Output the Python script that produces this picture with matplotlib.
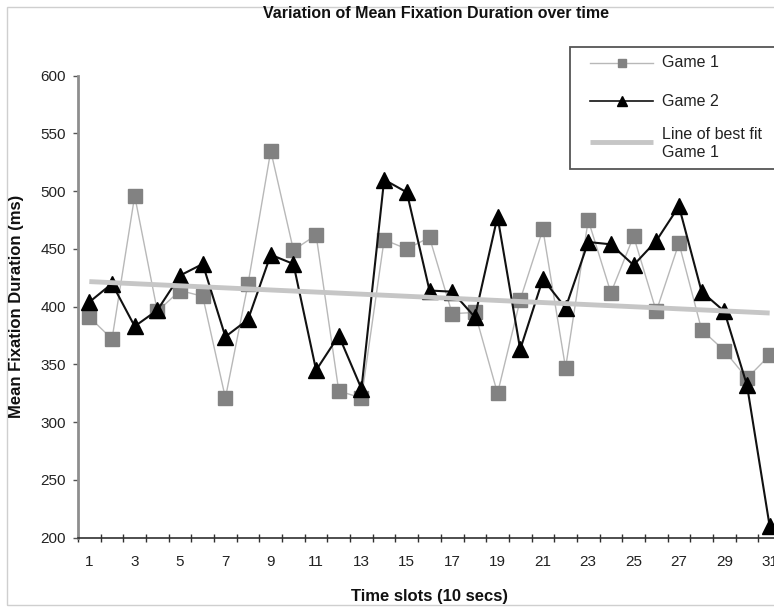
import matplotlib
matplotlib.use('Agg')
import matplotlib.pyplot as plt
import numpy as np
from matplotlib.lines import Line2D
from matplotlib.patches import Rectangle

plt.rcParams['font.family'] = ['Liberation Sans', 'DejaVu Sans']

# ---------------- data ----------------
slots = list(range(1, 32))
game1 = [391, 372, 496, 396, 414, 409, 321, 420, 535, 449,
         462, 327, 321, 458, 450, 460, 394, 395, 325, 406,
         467, 347, 475, 412, 461, 396, 455, 380, 362, 338, 358]
game2 = [404, 420, 383, 397, 427, 437, 374, 389, 445, 437,
         345, 375, 329, 510, 499, 414, 413, 391, 478, 363,
         424, 399, 456, 454, 436, 457, 487, 413, 396, 332, 210]
yticks = [200, 250, 300, 350, 400, 450, 500, 550, 600]
xtick_labels = [str(v) for v in range(1, 32, 2)]
title = "Variation of Mean Fixation Duration over time"
xlabel = "Time slots (10 secs)"
ylabel = "Mean Fixation Duration (ms)"
legend_labels = ["Game 1", "Game 2", "Line of best fit\nGame 1"]

# ---------------- figure ----------------
W, H = 774, 607
fig = plt.figure(figsize=(W / 100, H / 100), dpi=100)


def fx(px):
    return px / W


def fy(py):
    return 1 - py / H


ax_left, ax_right, ax_top, ax_bot = 78, 781, 75.7, 537.7
ax = fig.add_axes([fx(ax_left), fy(ax_bot), (ax_right - ax_left) / W, (ax_bot - ax_top) / H])

G1_LINE = '#b8b8b8'
G1_MARK = '#828282'
G2 = '#111111'
FIT = '#c6c6c6'

ax.plot(slots, game1, color=G1_LINE, lw=1.0, marker='s', ms=10, mfc=G1_MARK, mec=G1_MARK, zorder=3)
ax.plot(slots, game2, color=G2, lw=1.5, marker='^', ms=11.5, mfc='black', mec='black', zorder=4)

coef = np.polyfit(slots, game1, 1)
fit_x = np.array([slots[0], slots[-1]])
ax.plot(fit_x, np.polyval(coef, fit_x), color=FIT, lw=3.5, zorder=5, solid_capstyle='butt')

ax.set_xlim(0.5, 31.5)
ax.set_ylim(200, 600)
ax.set_yticks(yticks)
ax.set_xticks(list(range(1, 32, 2)))
ax.set_xticklabels(xtick_labels)
ax.set_xticks(np.arange(0.5, 32, 1.0), minor=True)

ax.tick_params(axis='x', which='major', length=0, pad=12.5, labelsize=11, labelcolor='#222222')
ax.tick_params(axis='x', which='minor', direction='inout', length=6, width=1, color='#303030')
ax.tick_params(axis='y', which='major', direction='out', length=3.5, width=1, color='#555555',
               pad=5, labelsize=11, labelcolor='#222222')

for s in ['top', 'right']:
    ax.spines[s].set_visible(False)
ax.spines['left'].set_color('#8e8e8e')
ax.spines['left'].set_linewidth(2)
ax.spines['bottom'].set_color('#303030')
ax.spines['bottom'].set_linewidth(1.2)
ax.patch.set_alpha(0)

# texts
fig.text(fx(436), fy(14), title, ha='center', va='center', fontsize=11.5, fontweight='bold', color='#111111')
fig.text(fx(429.5), fy(597), xlabel, ha='center', va='center', fontsize=12, fontweight='bold', color='#111111')
fig.text(fx(17), fy(306.7), ylabel, ha='center', va='center', rotation=90, fontsize=12,
         fontweight='bold', color='#111111')

# chart border
fig.add_artist(Rectangle((fx(7), fy(605)), fx(800) - fx(7), fy(7) - fy(605), transform=fig.transFigure,
                         fill=False, edgecolor='#cfcfcf', lw=1, zorder=0))

# legend (manual)
fig.add_artist(Rectangle((fx(570), fy(169)), fx(790) - fx(570), fy(47) - fy(169), transform=fig.transFigure,
                         facecolor='white', edgecolor='#555555', lw=1.3, zorder=10))
lx0, lx1 = 590, 653
lxm = (lx0 + lx1) / 2
rows = [62.5, 101, 142]
fig.add_artist(Line2D([fx(lx0), fx(lx1)], [fy(rows[0])] * 2, transform=fig.transFigure, color=G1_LINE, lw=1.0, zorder=11))
fig.add_artist(Line2D([fx(lxm)], [fy(rows[0])], transform=fig.transFigure, marker='s', ms=5.5,
                      mfc=G1_MARK, mec=G1_MARK, zorder=12))
fig.add_artist(Line2D([fx(lx0), fx(lx1)], [fy(rows[1])] * 2, transform=fig.transFigure, color=G2, lw=1.2, zorder=11))
fig.add_artist(Line2D([fx(lxm)], [fy(rows[1])], transform=fig.transFigure, marker='^', ms=7,
                      mfc='black', mec='black', zorder=12))
fig.add_artist(Line2D([fx(lx0), fx(lx1)], [fy(rows[2])] * 2, transform=fig.transFigure, color=FIT, lw=3.5,
                      zorder=11, solid_capstyle='butt'))
fig.text(fx(662), fy(rows[0]), legend_labels[0], ha='left', va='center', fontsize=11.5, color='#222222', zorder=13)
fig.text(fx(662), fy(rows[1]), legend_labels[1], ha='left', va='center', fontsize=11.5, color='#222222', zorder=13)
fig.text(fx(662), fy(144), legend_labels[2], ha='left', va='center', fontsize=11.5, color='#222222',
         linespacing=1.25, zorder=13)

fig.savefig('out.png', dpi=100)
